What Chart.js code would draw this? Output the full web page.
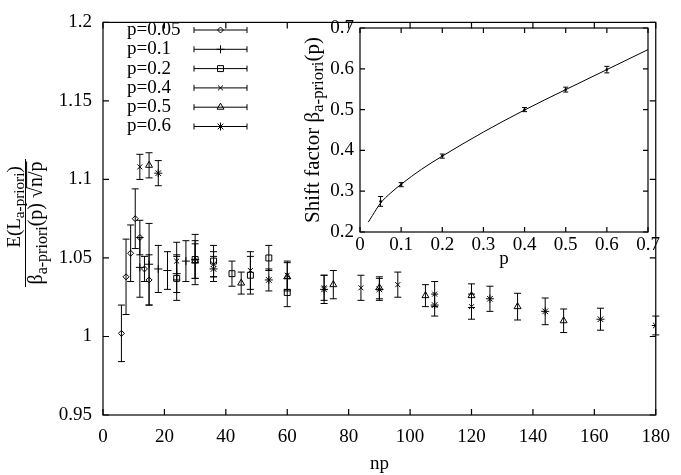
<!DOCTYPE html>
<html>
<head>
<meta charset="utf-8">
<script src="https://cdn.jsdelivr.net/npm/chart.js@4.4.1/dist/chart.umd.min.js"></script>
<style>
html, body { margin: 0; padding: 0; background: #fff; }
#wrap { position: relative; width: 681px; height: 475px; }
#mainChart { position: absolute; left: 0; top: 0; }
#insetChart { position: absolute; left: 290px; top: 0; }
</style>
</head>
<body>
<div id="wrap">
<canvas id="mainChart" width="681" height="475"></canvas>
<canvas id="insetChart" width="391" height="280"></canvas>
</div>
<script>
var FONT = '"Liberation Serif", "Times New Roman", serif';

// main plot: one series per p, x = np
var seriesLabels = ['p=0.05', 'p=0.1', 'p=0.2', 'p=0.4', 'p=0.5', 'p=0.6'];

var np005 = [6, 7.5, 9, 10.5, 12, 13.5, 15];
var val005 = [1.002, 1.038, 1.053, 1.075, 1.063, 1.043, 1.036];
var err005 = [0.018, 0.024, 0.018, 0.019, 0.011, 0.008, 0.016];

var np01 = [12, 15, 18, 21, 24, 27, 30];
var val01 = [1.044, 1.046, 1.043, 1.042, 1.040, 1.048, 1.049];
var err01 = [0.019, 0.026, 0.015, 0.012, 0.012, 0.013, 0.016];

var np02 = [24, 30, 36, 42, 48, 54, 60];
var val02 = [1.037, 1.049, 1.048, 1.040, 1.039, 1.050, 1.028];
var err02 = [0.014, 0.012, 0.010, 0.008, 0.012, 0.008, 0.009];

var np04 = [12, 24, 36, 48, 60, 72, 84, 96, 108, 120];
var val04 = [1.108, 1.048, 1.046, 1.042, 1.039, 1.031, 1.031, 1.033, 1.027, 1.019];
var err04 = [0.008, 0.012, 0.008, 0.012, 0.009, 0.008, 0.008, 0.008, 0.008, 0.008];

var np05 = [15, 30, 45, 60, 75, 90, 105, 120, 135, 150];
var val05 = [1.109, 1.048, 1.034, 1.038, 1.033, 1.031, 1.026, 1.026, 1.019, 1.010];
var err05 = [0.008, 0.011, 0.007, 0.009, 0.009, 0.007, 0.007, 0.0075, 0.0085, 0.0075];

var np06 = [18, 36, 54, 72, 90, 108, 126, 144, 162, 180];
var val06 = [1.104, 1.043, 1.036, 1.030, 1.030, 1.020, 1.024, 1.016, 1.011, 1.007];
var err06 = [0.008, 0.008, 0.007, 0.009, 0.007, 0.007, 0.008, 0.0085, 0.007, 0.006];

var xTicks = [0, 20, 40, 60, 80, 100, 120, 140, 160, 180];
var yTicks = [0.95, 1, 1.05, 1.1, 1.15, 1.2];

// inset: shift factor vs p
var pVals = [0.05, 0.1, 0.2, 0.4, 0.5, 0.6];
var shiftVals = [0.275, 0.316, 0.386, 0.500, 0.549, 0.598];
var shiftErr = [0.012, 0.005, 0.005, 0.005, 0.006, 0.008];
var fitP = [0.02, 0.03, 0.05, 0.075, 0.1, 0.15, 0.2, 0.3, 0.4, 0.5, 0.6, 0.7];
var fitVals = [0.224, 0.240, 0.271, 0.296, 0.317, 0.354, 0.386, 0.445, 0.499, 0.549, 0.598, 0.647];
var insetXTicks = [0, 0.1, 0.2, 0.3, 0.4, 0.5, 0.6, 0.7];
var insetYTicks = [0.2, 0.3, 0.4, 0.5, 0.6, 0.7];

var markerStyles = ['rectRot', 'cross', 'rect', 'crossRot', 'triangle', 'star'];
var markerSizes = [3, 4, 4.2, 3.5, 4, 4];

function toPoints(xs, ys, es) {
    return xs.map(function (x, i) { return { x: x, y: ys[i], err: es ? es[i] : 0 }; });
}

function fmt(v) { return String(+v.toFixed(3)); }

// text with subscripts / overline, centred on (cx, cy)
function drawRich(ctx, parts, cx, cy, size) {
    var w = 0;
    parts.forEach(function (p) {
        ctx.font = (p.sub ? size * 0.8 : size) + 'px ' + FONT;
        w += ctx.measureText(p.t).width;
    });
    var x = cx - w / 2;
    ctx.textAlign = 'left';
    ctx.textBaseline = 'middle';
    parts.forEach(function (p) {
        var s = p.sub ? size * 0.8 : size;
        ctx.font = s + 'px ' + FONT;
        var tw = ctx.measureText(p.t).width;
        ctx.fillText(p.t, x, cy + (p.sub ? size * 0.28 : 0));
        if (p.over) {
            ctx.beginPath();
            ctx.lineWidth = 1;
            ctx.moveTo(x - 1, cy - size * 0.52);
            ctx.lineTo(x + tw, cy - size * 0.52);
            ctx.stroke();
        }
        x += tw;
    });
}

function drawMarker(ctx, style, r, x, y) {
    if (Chart.helpers && Chart.helpers.drawPoint) {
        Chart.helpers.drawPoint(ctx, { pointStyle: style, radius: r, borderWidth: 1, rotation: 0 }, x, y);
    }
}

var errorBars = {
    id: 'errorBars',
    afterDatasetsDraw: function (chart, args, opts) {
        var ctx = chart.ctx, ys = chart.scales.y;
        ctx.save();
        ctx.strokeStyle = '#000';
        ctx.lineWidth = 1;
        chart.data.datasets.forEach(function (ds, di) {
            if (!ds.errorBars) return;
            var meta = chart.getDatasetMeta(di);
            meta.data.forEach(function (pt, i) {
                var d = ds.data[i];
                var top = ys.getPixelForValue(d.y + d.err);
                var bot = ys.getPixelForValue(d.y - d.err);
                ctx.beginPath();
                ctx.moveTo(pt.x, top); ctx.lineTo(pt.x, bot);
                ctx.moveTo(pt.x - opts.cap, top); ctx.lineTo(pt.x + opts.cap, top);
                ctx.moveTo(pt.x - opts.cap, bot); ctx.lineTo(pt.x + opts.cap, bot);
                ctx.stroke();
            });
        });
        ctx.restore();
    }
};

var frame = {
    id: 'frame',
    afterDraw: function (chart, args, opts) {
        var a = chart.chartArea, ctx = chart.ctx;
        var xs = chart.scales.x, ys = chart.scales.y, L = opts.tickLen;
        ctx.save();
        ctx.strokeStyle = '#000';
        ctx.lineWidth = 1.2;
        ctx.strokeRect(a.left, a.top, a.right - a.left, a.bottom - a.top);
        ctx.beginPath();
        xs.ticks.forEach(function (t) {
            var px = xs.getPixelForValue(t.value);
            ctx.moveTo(px, a.bottom); ctx.lineTo(px, a.bottom - L);
            ctx.moveTo(px, a.top); ctx.lineTo(px, a.top + L);
        });
        ys.ticks.forEach(function (t) {
            var py = ys.getPixelForValue(t.value);
            ctx.moveTo(a.left, py); ctx.lineTo(a.left + L, py);
            ctx.moveTo(a.right, py); ctx.lineTo(a.right - L, py);
        });
        ctx.stroke();
        ctx.fillStyle = '#000';
        ctx.strokeStyle = '#000';
        if (opts.draw) opts.draw(chart, ctx);
        ctx.restore();
    }
};

function mainExtras(chart, ctx) {
    var a = chart.chartArea;
    // x title
    ctx.font = '19px ' + FONT;
    ctx.textAlign = 'center';
    ctx.textBaseline = 'middle';
    ctx.fillText('np', (a.left + a.right) / 2, 464);

    // y title as a fraction
    ctx.save();
    ctx.translate(15, 207);
    ctx.rotate(-Math.PI / 2);
    drawRich(ctx, [{ t: 'E(L' }, { t: 'a-priori', sub: true }, { t: ')' }], 0, 0, 19);
    ctx.restore();
    ctx.save();
    ctx.translate(37, 223);
    ctx.rotate(-Math.PI / 2);
    drawRich(ctx, [{ t: 'β' }, { t: 'a-priori', sub: true }, { t: '(p) √' }, { t: 'n/p', over: true }], 0, 0, 20);
    ctx.restore();
    ctx.beginPath();
    ctx.lineWidth = 1;
    ctx.moveTo(25.5, 159); ctx.lineTo(25.5, 287);
    ctx.stroke();

    // key
    seriesLabels.forEach(function (lab, i) {
        var y = 30 + i * 19.3;
        ctx.font = '19px ' + FONT;
        ctx.textAlign = 'left';
        ctx.textBaseline = 'middle';
        ctx.fillText(lab, 127, y);
        ctx.beginPath();
        ctx.lineWidth = 1;
        ctx.moveTo(194, y); ctx.lineTo(247, y);
        ctx.moveTo(194, y - 3); ctx.lineTo(194, y + 3);
        ctx.moveTo(247, y - 3); ctx.lineTo(247, y + 3);
        ctx.stroke();
        ctx.fillStyle = 'rgba(255,255,255,0)';
        drawMarker(ctx, markerStyles[i], markerSizes[i], 220.5, y);
        ctx.fillStyle = '#000';
    });
}

function insetExtras(chart, ctx) {
    var a = chart.chartArea;
    ctx.font = '19px ' + FONT;
    ctx.textAlign = 'center';
    ctx.textBaseline = 'middle';
    ctx.fillText('p', (a.left + a.right) / 2, 259);
    ctx.save();
    ctx.translate(23, 130);
    ctx.rotate(-Math.PI / 2);
    drawRich(ctx, [{ t: 'Shift factor β' }, { t: 'a-priori', sub: true }, { t: '(p)' }], 0, 0, 21);
    ctx.restore();
}

var mainSeries = [
    toPoints(np005, val005, err005),
    toPoints(np01, val01, err01),
    toPoints(np02, val02, err02),
    toPoints(np04, val04, err04),
    toPoints(np05, val05, err05),
    toPoints(np06, val06, err06)
];

var tickFont = { family: FONT, size: 19 };

new Chart(document.getElementById('mainChart'), {
    type: 'scatter',
    data: {
        datasets: mainSeries.map(function (pts, i) {
            return {
                label: seriesLabels[i],
                data: pts,
                errorBars: true,
                pointStyle: markerStyles[i],
                pointRadius: markerSizes[i],
                pointHoverRadius: markerSizes[i],
                pointBorderColor: '#000',
                pointBackgroundColor: 'rgba(255,255,255,0)',
                pointBorderWidth: 1
            };
        })
    },
    options: {
        responsive: false,
        animation: false,
        events: [],
        layout: { padding: { top: 9, right: 14, left: 0, bottom: 0 } },
        plugins: {
            legend: { display: false },
            tooltip: { enabled: false },
            errorBars: { cap: 3.5 },
            frame: { tickLen: 6, draw: mainExtras }
        },
        scales: {
            x: {
                type: 'linear', min: 0, max: 180,
                afterBuildTicks: function (s) { s.ticks = xTicks.map(function (v) { return { value: v }; }); },
                afterFit: function (s) { s.height = 60; },
                grid: { display: false, drawTicks: false },
                border: { display: false },
                ticks: { color: '#000', font: tickFont, padding: 11, maxRotation: 0, callback: fmt }
            },
            y: {
                type: 'linear', min: 0.95, max: 1.2,
                afterBuildTicks: function (s) { s.ticks = yTicks.map(function (v) { return { value: v }; }); },
                afterFit: function (s) { s.width = 103; },
                grid: { display: false, drawTicks: false },
                border: { display: false },
                ticks: { color: '#000', font: tickFont, padding: 11, callback: fmt }
            }
        }
    },
    plugins: [errorBars, frame]
});

new Chart(document.getElementById('insetChart'), {
    type: 'scatter',
    data: {
        datasets: [{
            label: 'fit',
            data: toPoints(fitP, fitVals),
            showLine: true,
            borderColor: '#000',
            borderWidth: 1,
            pointRadius: 0,
            tension: 0.4,
            cubicInterpolationMode: 'monotone'
        }, {
            label: 'shift factor',
            data: toPoints(pVals, shiftVals, shiftErr),
            errorBars: true,
            pointStyle: 'circle',
            pointRadius: 1.3,
            pointBackgroundColor: '#000',
            pointBorderColor: '#000',
            pointBorderWidth: 0
        }]
    },
    options: {
        responsive: false,
        animation: false,
        events: [],
        layout: { padding: { top: 28, right: 33, left: 0, bottom: 0 } },
        plugins: {
            legend: { display: false },
            tooltip: { enabled: false },
            errorBars: { cap: 2.5 },
            frame: { tickLen: 5, draw: insetExtras }
        },
        scales: {
            x: {
                type: 'linear', min: 0, max: 0.7,
                afterBuildTicks: function (s) { s.ticks = insetXTicks.map(function (v) { return { value: v }; }); },
                afterFit: function (s) { s.height = 48; },
                grid: { display: false, drawTicks: false },
                border: { display: false },
                ticks: { color: '#000', font: tickFont, padding: 2, maxRotation: 0, callback: fmt }
            },
            y: {
                type: 'linear', min: 0.2, max: 0.7,
                afterBuildTicks: function (s) { s.ticks = insetYTicks.map(function (v) { return { value: v }; }); },
                afterFit: function (s) { s.width = 70; },
                grid: { display: false, drawTicks: false },
                border: { display: false },
                ticks: { color: '#000', font: tickFont, padding: 6, callback: fmt }
            }
        }
    },
    plugins: [errorBars, frame]
});
</script>
</body>
</html>
